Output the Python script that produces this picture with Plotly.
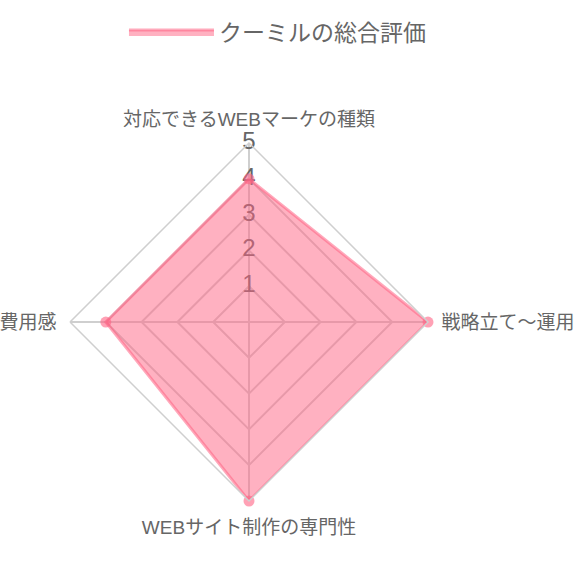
import plotly.graph_objects as go

categories = ['対応できるWEBマーケの種類', '戦略立て〜運用', 'WEBサイト制作の専門性', '費用感']
scores = [4, 5, 5, 4]
tick_values = [1, 2, 3, 4, 5]
series_name = 'クーミルの総合評価'

font_family = 'Liberation Sans, Noto Sans CJK JP, sans-serif'
grid_color = '#cfcfcf'
pink = 'rgba(255,99,132,{})'

fig = go.Figure()

# scale numbers drawn on the top spoke, like chart.js does
fig.add_trace(go.Scatterpolar(
    r=tick_values,
    theta=[categories[0]] * len(tick_values),
    mode='text',
    text=[str(v) for v in tick_values],
    textposition='middle center',
    textfont=dict(size=24, color='#666666', family=font_family),
    showlegend=False,
    hoverinfo='skip',
))

fig.add_trace(go.Scatterpolar(
    r=scores + scores[:1],
    theta=categories + categories[:1],
    fill='toself',
    fillcolor=pink.format(0.5),
    mode='lines',
    line=dict(color=pink.format(0.55), width=3),
    name=series_name,
))

fig.add_trace(go.Scatterpolar(
    r=scores,
    theta=categories,
    mode='markers',
    marker=dict(size=11, color=pink.format(0.6)),
    showlegend=False,
))

fig.update_layout(
    width=580,
    height=580,
    margin=dict(l=0, r=0, t=0, b=0),
    paper_bgcolor='white',
    font=dict(family=font_family, color='#666666'),
    showlegend=True,
    legend=dict(
        orientation='h',
        x=0.4784, xanchor='center',
        y=0.9448, yanchor='middle',
        font=dict(size=23, color='#666666'),
        itemwidth=85,
    ),
    polar=dict(
        domain=dict(x=[0.1207, 0.7379], y=[0.1362, 0.7534]),
        bgcolor='white',
        gridshape='linear',
        radialaxis=dict(
            range=[0, 5],
            dtick=1,
            showticklabels=False,
            ticks='',
            showline=False,
            gridcolor=grid_color,
            gridwidth=1.5,
        ),
        angularaxis=dict(
            rotation=90,
            direction='clockwise',
            tickfont=dict(size=19, color='#666666'),
            gridcolor=grid_color,
            gridwidth=1.5,
            linecolor=grid_color,
            linewidth=1.5,
            ticks='outside',
            ticklen=9,
            tickcolor='rgba(0,0,0,0)',
        ),
    ),
)

# drop the default 8px body margin so the figure fills the window
fig.write_html('out.html', config={'displayModeBar': False},
               post_script="document.body.style.margin = '0';")
